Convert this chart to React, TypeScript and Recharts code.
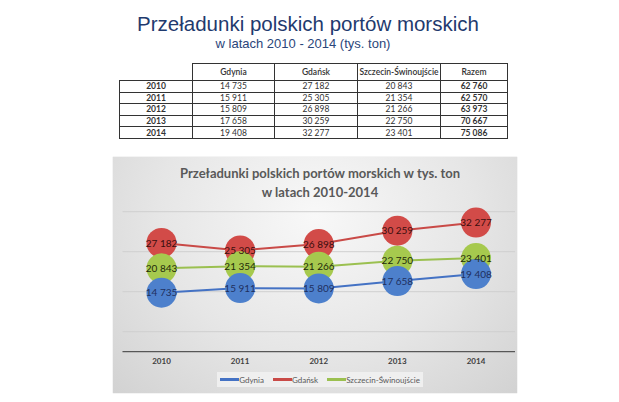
import React from "react";
import { LineChart, Line, XAxis, YAxis, CartesianGrid, Legend, LabelList } from "recharts";

const years = ["2010", "2011", "2012", "2013", "2014"];
const gdynia = [14735, 15911, 15809, 17658, 19408];
const gdansk = [27182, 25305, 26898, 30259, 32277];
const szczecin = [20843, 21354, 21266, 22750, 23401];
const razem = [62760, 62570, 63973, 70667, 75086];
const yTicks = [0, 5000, 10000, 15000, 20000, 25000, 30000, 35000];

const columns = ["Gdynia", "Gdańsk", "Szczecin-Świnoujście", "Razem"];

const data = years.map((y, i) => ({
  year: y,
  gdynia: gdynia[i],
  gdansk: gdansk[i],
  szczecin: szczecin[i],
}));

const fmt = (v: number) => String(v).replace(/\B(?=(\d{3})+(?!\d))/g, " ");

const series = [
  { key: "gdynia", name: "Gdynia", line: "#4472C4", dot: "#4D80CC", label: "#1F2F5E" },
  { key: "gdansk", name: "Gdańsk", line: "#C94A47", dot: "#D24B48", label: "#3A0E0E" },
  { key: "szczecin", name: "Szczecin-Świnoujście", line: "#9BC050", dot: "#A6C94E", label: "#1E2A0A" },
];

// draw order: red under green under blue
const drawOrder = ["gdansk", "szczecin", "gdynia"];

const FONT = "Lato, 'DejaVu Sans', sans-serif";

function LegendBox() {
  return (
    <div
      style={{
        display: "flex",
        alignItems: "center",
        justifyContent: "center",
        gap: 9,
        background: "#efefef",
        fontFamily: FONT,
        fontSize: 8,
        color: "#595959",
        width: 206,
        height: 15,
        whiteSpace: "nowrap",
      }}
    >
      {series.map((s) => (
        <div key={s.key} style={{ display: "flex", alignItems: "center" }}>
          <span style={{ display: "inline-block", width: 19, height: 2.5, background: s.line }} />
          <span>{s.name}</span>
        </div>
      ))}
    </div>
  );
}

const cell: React.CSSProperties = {
  border: "1px solid #333",
  padding: 0,
  textAlign: "center",
  height: 10.6,
  lineHeight: "10px",
};

export default function App() {
  return (
    <div style={{ position: "absolute", left: 0, top: 0, width: 619, height: 402, background: "#fff", overflow: "hidden" }}>
      <div
        style={{
          position: "absolute",
          left: 0,
          width: 616,
          top: 13,
          textAlign: "center",
          fontFamily: "'Liberation Sans', Arial, sans-serif",
          fontSize: 20.5,
          color: "#1F3A6E",
          lineHeight: "22px",
        }}
      >
        Przeładunki polskich portów morskich
      </div>
      <div
        style={{
          position: "absolute",
          left: 0,
          width: 606,
          top: 36,
          textAlign: "center",
          fontFamily: "'Liberation Sans', Arial, sans-serif",
          fontSize: 13,
          color: "#2B467A",
          lineHeight: "15px",
        }}
      >
        w latach 2010 - 2014 (tys. ton)
      </div>

      <table
        style={{
          position: "absolute",
          left: 119,
          top: 63,
          borderCollapse: "collapse",
          fontFamily: FONT,
          fontSize: 8.5,
          color: "#333",
          tableLayout: "fixed",
        }}
      >
        <colgroup>
          <col style={{ width: 73 }} />
          <col style={{ width: 82 }} />
          <col style={{ width: 83 }} />
          <col style={{ width: 83 }} />
          <col style={{ width: 67 }} />
        </colgroup>
        <tbody>
          <tr>
            <td style={{ ...cell, border: "none", borderBottom: "1px solid #333", height: 16 }} />
            {columns.map((c) => (
              <td key={c} style={{ ...cell, height: 16, fontWeight: 600 }}>
                {c}
              </td>
            ))}
          </tr>
          {years.map((y, i) => (
            <tr key={y}>
              <td style={{ ...cell, fontWeight: 700 }}>{y}</td>
              <td style={cell}>{fmt(gdynia[i])}</td>
              <td style={cell}>{fmt(gdansk[i])}</td>
              <td style={cell}>{fmt(szczecin[i])}</td>
              <td style={{ ...cell, fontWeight: 700 }}>{fmt(razem[i])}</td>
            </tr>
          ))}
        </tbody>
      </table>

      <div
        style={{
          position: "absolute",
          left: 113,
          top: 157,
          width: 404,
          height: 236,
          background: "radial-gradient(ellipse at 50% 25%, #f8f8f8 0%, #e6e6e6 55%, #d2d2d2 100%)",
          boxShadow: "0 0 1px #bbb",
        }}
      >
        <div
          style={{
            position: "absolute",
            left: 0,
            width: 414,
            top: 7,
            textAlign: "center",
            fontFamily: FONT,
            fontWeight: 700,
            fontSize: 13,
            color: "#595959",
            lineHeight: "19px",
          }}
        >
          Przeładunki polskich portów morskich w tys. ton
          <br />w latach 2010-2014
        </div>
        <LineChart
          width={404}
          height={236}
          data={data}
          margin={{ top: 54.7, right: 2, bottom: 21.3, left: 9.5 }}
          style={{ position: "absolute", left: 0, top: 0 }}
        >
          <CartesianGrid vertical={false} stroke="#cfcfcf" />
          <XAxis
            dataKey="year"
            axisLine={{ stroke: "#3a3a3a" }}
            tickLine={false}
            tickSize={0}
            tickMargin={7}
            height={20}
            padding={{ left: 39, right: 39 }}
            tick={{ fontFamily: FONT, fontSize: 8, fontWeight: 700, fill: "#404040" }}
          />
          <YAxis hide domain={[0, 35000]} ticks={yTicks} />
          {drawOrder.map((k) => {
            const s = series.find((x) => x.key === k)!;
            return (
              <Line
                key={k}
                dataKey={k}
                name={s.name}
                stroke={s.line}
                strokeWidth={2}
                dot={{ r: 15, fill: s.dot, stroke: "none" }}
                activeDot={false}
                isAnimationActive={false}
              >
                <LabelList
                  dataKey={k}
                  position="center"
                  formatter={(v: any) => fmt(Number(v))}
                  style={{ fontFamily: FONT, fontSize: 10, fill: s.label }}
                />
              </Line>
            );
          })}
          <Legend
            layout="horizontal"
            verticalAlign="middle"
            align="center"
            content={() => <LegendBox />}
            wrapperStyle={{ position: "absolute", left: 104, top: 215, width: 206 }}
          />
        </LineChart>
      </div>
    </div>
  );
}
